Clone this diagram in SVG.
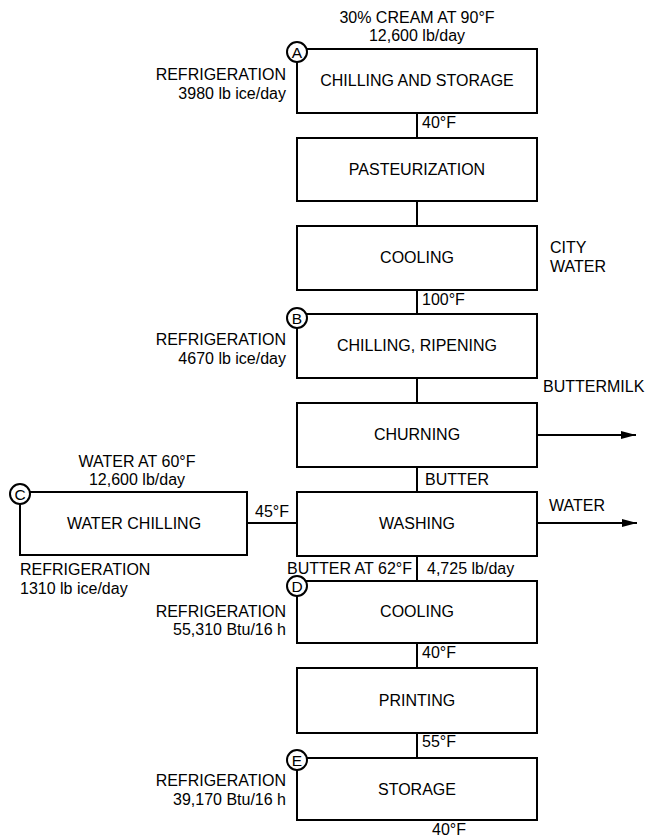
<svg xmlns="http://www.w3.org/2000/svg" width="646" height="838" viewBox="0 0 646 838">
<defs>
<marker id="arr" viewBox="0 0 15 9" refX="15" refY="4.5" markerWidth="15" markerHeight="9" markerUnits="userSpaceOnUse" orient="auto">
<path d="M0,0.5 L15,4.5 L0,8.5 Z" fill="#000"/>
</marker>
<style>
text{font-family:"Liberation Sans",Arial,sans-serif;font-size:16px;fill:#000}
.c{text-anchor:middle}
.r{text-anchor:end}
.lt{font-size:15.5px}
rect{fill:#fff;stroke:#000;stroke-width:2}
.ln{stroke:#000;stroke-width:2;fill:none}
circle{fill:#fff;stroke:#000;stroke-width:2}
</style>
</defs>
<rect width="646" height="838" fill="#fff" style="stroke:none"/>
<g id="connectors">
<line class="ln" x1="417" y1="113" x2="417" y2="138"/>
<line class="ln" x1="417" y1="201" x2="417" y2="226"/>
<line class="ln" x1="417" y1="290" x2="417" y2="314"/>
<line class="ln" x1="417" y1="378" x2="417" y2="403"/>
<line class="ln" x1="417" y1="467" x2="417" y2="492"/>
<line class="ln" x1="417" y1="556" x2="417" y2="581"/>
<line class="ln" x1="417" y1="643" x2="417" y2="668"/>
<line class="ln" x1="417" y1="733" x2="417" y2="758"/>
<line class="ln" x1="247" y1="523" x2="297" y2="523"/>
<line class="ln" x1="537" y1="435" x2="636" y2="435" marker-end="url(#arr)"/>
<line class="ln" x1="537" y1="523" x2="637" y2="523" marker-end="url(#arr)"/>
</g>
<g id="nodeA">
<rect x="297" y="49" width="240" height="64"/>
<text class="c" x="417" y="86">CHILLING AND STORAGE</text>
<circle cx="297" cy="52" r="10"/>
<text class="c lt" x="297" y="57.5">A</text>
</g>
<g id="pasteurization">
<rect x="297" y="138" width="240" height="63"/>
<text class="c" x="417" y="175">PASTEURIZATION</text>
</g>
<g id="cooling1">
<rect x="297" y="226" width="240" height="64"/>
<text class="c" x="417" y="263">COOLING</text>
</g>
<g id="nodeB">
<rect x="297" y="314" width="240" height="64"/>
<text class="c" x="417" y="351">CHILLING, RIPENING</text>
<circle cx="297" cy="318" r="10"/>
<text class="c lt" x="297" y="323.5">B</text>
</g>
<g id="churning">
<rect x="297" y="403" width="240" height="64"/>
<text class="c" x="417" y="440">CHURNING</text>
</g>
<g id="washing">
<rect x="297" y="492" width="240" height="64"/>
<text class="c" x="417" y="529">WASHING</text>
</g>
<g id="nodeC">
<rect x="20" y="492" width="227" height="63"/>
<text class="c" x="134" y="529">WATER CHILLING</text>
<circle cx="20" cy="494" r="10"/>
<text class="c lt" x="20" y="499.5">C</text>
</g>
<g id="nodeD">
<rect x="297" y="581" width="240" height="62"/>
<text class="c" x="417" y="617">COOLING</text>
<circle cx="297" cy="586" r="10"/>
<text class="c lt" x="297" y="591.5">D</text>
</g>
<g id="printing">
<rect x="297" y="668" width="240" height="65"/>
<text class="c" x="417" y="706">PRINTING</text>
</g>
<g id="nodeE">
<rect x="297" y="758" width="240" height="62"/>
<text class="c" x="417" y="795">STORAGE</text>
<circle cx="297" cy="760" r="10"/>
<text class="c lt" x="297" y="765.5">E</text>
</g>
<g id="labels">
<text class="c" x="417" y="23">30% CREAM AT 90°F</text>
<text class="c" x="417" y="41">12,600 lb/day</text>
<text class="r" x="286" y="80">REFRIGERATION</text>
<text class="r" x="286" y="99">3980 lb ice/day</text>
<text x="422" y="128">40°F</text>
<text x="550" y="253">CITY</text>
<text x="550" y="272">WATER</text>
<text x="422" y="305">100°F</text>
<text class="r" x="286" y="345">REFRIGERATION</text>
<text class="r" x="286" y="364">4670 lb ice/day</text>
<text x="543" y="392">BUTTERMILK</text>
<text x="425" y="485">BUTTER</text>
<text x="549" y="511">WATER</text>
<text class="c" x="137" y="467">WATER AT 60°F</text>
<text class="c" x="137" y="485">12,600 lb/day</text>
<text x="255" y="517">45°F</text>
<text x="20" y="575">REFRIGERATION</text>
<text x="20" y="594">1310 lb ice/day</text>
<text x="287" y="574">BUTTER AT 62°F</text>
<text x="427" y="574">4,725 lb/day</text>
<text class="r" x="286" y="617">REFRIGERATION</text>
<text class="r" x="286" y="635">55,310 Btu/16 h</text>
<text x="422" y="658">40°F</text>
<text x="422" y="747">55°F</text>
<text class="r" x="286" y="786">REFRIGERATION</text>
<text class="r" x="286" y="805">39,170 Btu/16 h</text>
<text x="432" y="835">40°F</text>
</g>
</svg>
